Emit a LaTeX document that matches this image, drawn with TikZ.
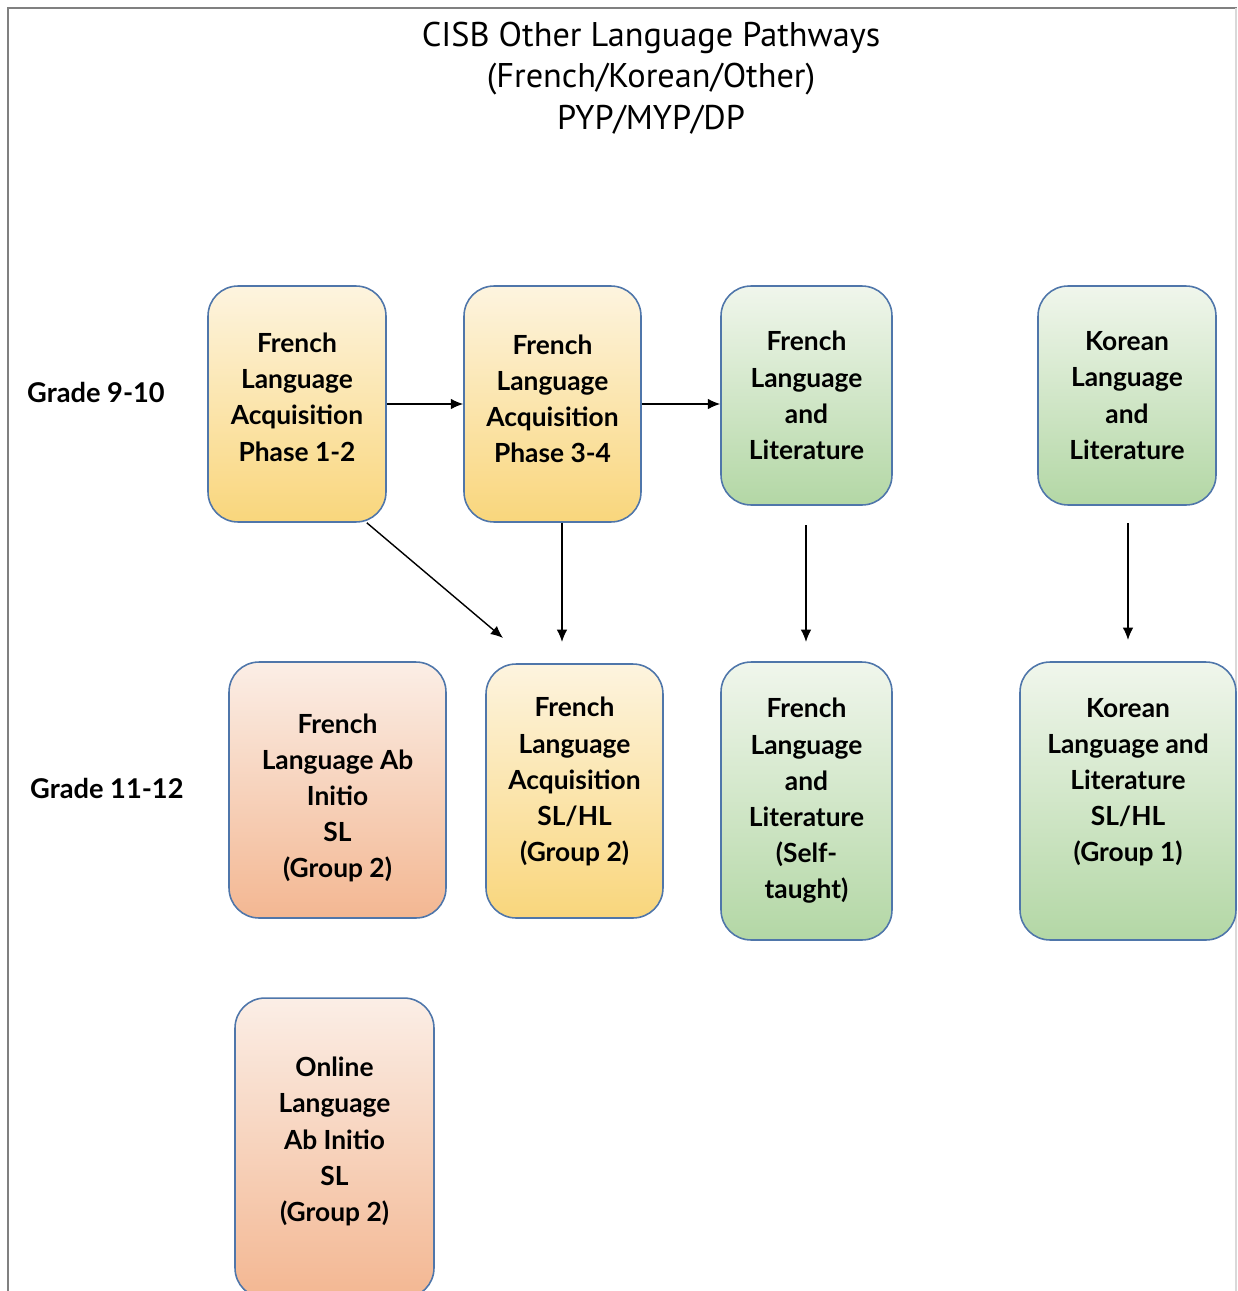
\documentclass[tikz,border=0pt]{standalone}
\usepackage{fontspec}
\setmainfont{Lato}
\newfontfamily\titlefont{PT Sans}
\usepackage{tikz}
\usetikzlibrary{arrows.meta}

\definecolor{boxline}{HTML}{4F76AA}
\definecolor{ytop}{HTML}{FDF4DF}
\definecolor{ybot}{HTML}{F9D67C}
\definecolor{otop}{HTML}{FBEEE6}
\definecolor{obot}{HTML}{F3B792}
\definecolor{gtop}{HTML}{F0F6EC}
\definecolor{gbot}{HTML}{B3D7A5}

\tikzset{
	pathbox/.style={draw=boxline, line width=0.9pt, rounded corners=0.6cm, align=center,
		font=\fontsize{15}{20.6}\selectfont\bfseries, inner sep=0pt},
	ybox/.style={pathbox, top color=ytop, bottom color=ybot},
	obox/.style={pathbox, top color=otop, bottom color=obot},
	gbox/.style={pathbox, top color=gtop, bottom color=gbot},
	gradelab/.style={font=\fontsize{15.5}{18}\selectfont\bfseries, anchor=west},
	flow/.style={-{Latex[length=7pt,width=6pt]}, line width=0.8pt}
}

\begin{document}
\begin{tikzpicture}[x=0.02cm, y=-0.02cm]
		\useasboundingbox (0,0) rectangle (1237,1291);
		\clip (0,0) rectangle (1237,1291);
		%%frame
		\draw[gray, line width=1.2pt] (8,1291) -- (8,8) -- (1237,8);
		\draw[gray!30, line width=0.6pt] (1236,8) -- (1236,1291);
		%%title
		\node[font=\titlefont\fontsize{19.5}{23.6}\selectfont, align=center] (title) at (651,78)
			{CISB Other Language Pathways\\(French/Korean/Other)\\PYP/MYP/DP};
		%%grades
		\node[gradelab] (g910) at (21,392) {Grade 9-10};
		\node[gradelab] (g1112) at (24,788) {Grade 11-12};
		%%grade 9-10
		\node[ybox, minimum width=3.56cm, minimum height=4.72cm, text depth=8pt] (fla12) at (297,404)
			{French\\Language\\Acquisition\\Phase 1-2};
		\node[ybox, minimum width=3.54cm, minimum height=4.72cm, text depth=6pt] (fla34) at (552.5,404)
			{French\\Language\\Acquisition\\Phase 3-4};
		\node[gbox, minimum width=3.42cm, minimum height=4.38cm] (fll) at (806.5,395.5)
			{French\\Language\\and\\Literature};
		\node[gbox, minimum width=3.56cm, minimum height=4.38cm] (kll) at (1127,395.5)
			{Korean\\Language\\and\\Literature};
		%%grade 11-12
		\node[obox, minimum width=4.34cm, minimum height=5.12cm, text height=102.5pt] (fabi) at (337.5,790)
			{French\\Language Ab\\Initio\\SL\\(Group 2)};
		\node[ybox, minimum width=3.54cm, minimum height=5.08cm, text depth=13pt] (flasl) at (574.5,791)
			{French\\Language\\Acquisition\\SL/HL\\(Group 2)};
		\node[gbox, minimum width=3.42cm, minimum height=5.56cm] (fllst) at (806.5,801)
			{French\\Language\\and\\Literature\\(Self-\\taught)};
		\node[gbox, minimum width=4.32cm, minimum height=5.56cm, text depth=24pt] (kllsl) at (1128,801)
			{Korean\\Language and\\Literature\\SL/HL\\(Group 1)};
		\node[obox, minimum width=3.98cm, minimum height=6cm, text depth=10pt] (oabi) at (334.5,1148)
			{Online\\Language\\Ab Initio\\SL\\(Group 2)};
		%%arrow ends
		\coordinate (diagEnd) at (503,638);
		\coordinate (flaEnd) at (562,642);
		\coordinate (fllStart) at (806,525);
		\coordinate (fllEnd) at (806,642);
		\coordinate (kllStart) at (1128,523);
		\coordinate (kllEnd) at (1128,640);
		%%arrows
		\draw[flow] (fla12.east) -- (fla34.west);
		\draw[flow] (fla34.east) -- (fla34.east -| fll.west);
		\draw[flow] ([xshift=-0.4cm]fla12.south east) -- (diagEnd);
		\draw[flow] (fla34.south -| flaEnd) -- (flaEnd);
		\draw[flow] (fllStart) -- (fllEnd);
		\draw[flow] (kllStart) -- (kllEnd);
	\end{tikzpicture}
\end{document}
